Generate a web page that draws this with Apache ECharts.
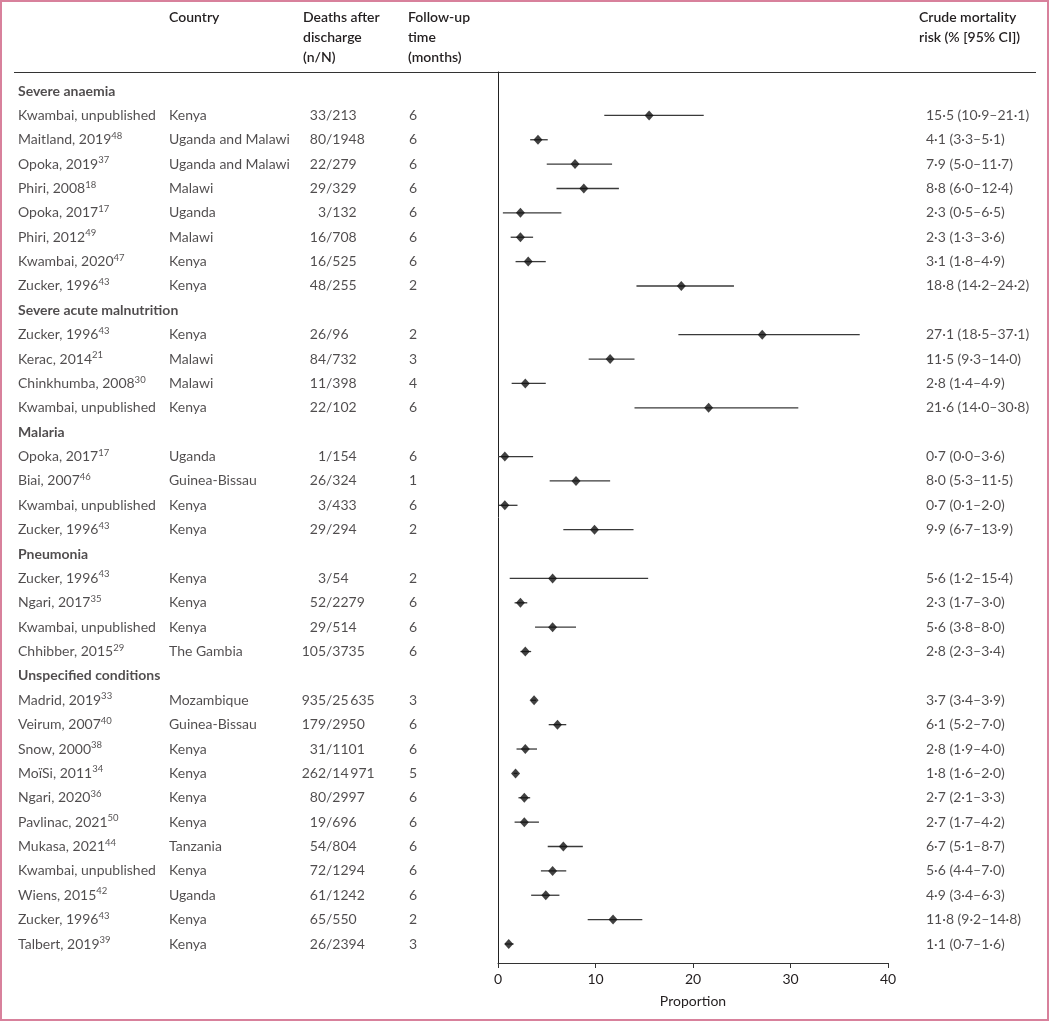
<!DOCTYPE html>
<html>
<head>
<meta charset="utf-8">
<script src="https://cdn.jsdelivr.net/npm/echarts@6/dist/echarts.min.js"></script>
<style>
html,body{margin:0;padding:0;background:#fff;}
#chart{width:1050px;height:1022px;}
</style>
</head>
<body>
<div id="chart"></div>
<script>
// ---------------- DATA ----------------
const groupNames = ['Severe anaemia', 'Severe acute malnutrition', 'Malaria', 'Pneumonia', 'Unspecified conditions'];
const groupSizes = [8, 4, 4, 4, 11];

const studyNames = [
  'Kwambai, unpublished', 'Maitland, 2019', 'Opoka, 2019', 'Phiri, 2008', 'Opoka, 2017', 'Phiri, 2012', 'Kwambai, 2020', 'Zucker, 1996',
  'Zucker, 1996', 'Kerac, 2014', 'Chinkhumba, 2008', 'Kwambai, unpublished',
  'Opoka, 2017', 'Biai, 2007', 'Kwambai, unpublished', 'Zucker, 1996',
  'Zucker, 1996', 'Ngari, 2017', 'Kwambai, unpublished', 'Chhibber, 2015',
  'Madrid, 2019', 'Veirum, 2007', 'Snow, 2000', 'MoïSi, 2011', 'Ngari, 2020', 'Pavlinac, 2021', 'Mukasa, 2021', 'Kwambai, unpublished', 'Wiens, 2015', 'Zucker, 1996', 'Talbert, 2019'
];
const studyRefs = [
  '', '48', '37', '18', '17', '49', '47', '43',
  '43', '21', '30', '',
  '17', '46', '', '43',
  '43', '35', '', '29',
  '33', '40', '38', '34', '36', '50', '44', '', '42', '43', '39'
];
const countries = [
  'Kenya', 'Uganda and Malawi', 'Uganda and Malawi', 'Malawi', 'Uganda', 'Malawi', 'Kenya', 'Kenya',
  'Kenya', 'Malawi', 'Malawi', 'Kenya',
  'Uganda', 'Guinea-Bissau', 'Kenya', 'Kenya',
  'Kenya', 'Kenya', 'Kenya', 'The Gambia',
  'Mozambique', 'Guinea-Bissau', 'Kenya', 'Kenya', 'Kenya', 'Kenya', 'Tanzania', 'Kenya', 'Uganda', 'Kenya', 'Kenya'
];
const deaths = [
  '33/213', '80/1948', '22/279', '29/329', '3/132', '16/708', '16/525', '48/255',
  '26/96', '84/732', '11/398', '22/102',
  '1/154', '26/324', '3/433', '29/294',
  '3/54', '52/2279', '29/514', '105/3735',
  '935/25\u2009635', '179/2950', '31/1101', '262/14\u2009971', '80/2997', '19/696', '54/804', '72/1294', '61/1242', '65/550', '26/2394'
];
const followUp = [
  6, 6, 6, 6, 6, 6, 6, 2,
  2, 3, 4, 6,
  6, 1, 6, 2,
  2, 6, 6, 6,
  3, 6, 6, 5, 6, 6, 6, 6, 6, 2, 3
];
const estimate = [
  15.5, 4.1, 7.9, 8.8, 2.3, 2.3, 3.1, 18.8,
  27.1, 11.5, 2.8, 21.6,
  0.7, 8.0, 0.7, 9.9,
  5.6, 2.3, 5.6, 2.8,
  3.7, 6.1, 2.8, 1.8, 2.7, 2.7, 6.7, 5.6, 4.9, 11.8, 1.1
];
const ciLow = [
  10.9, 3.3, 5.0, 6.0, 0.5, 1.3, 1.8, 14.2,
  18.5, 9.3, 1.4, 14.0,
  0.0, 5.3, 0.1, 6.7,
  1.2, 1.7, 3.8, 2.3,
  3.4, 5.2, 1.9, 1.6, 2.1, 1.7, 5.1, 4.4, 3.4, 9.2, 0.7
];
const ciHigh = [
  21.1, 5.1, 11.7, 12.4, 6.5, 3.6, 4.9, 24.2,
  37.1, 14.0, 4.9, 30.8,
  3.6, 11.5, 2.0, 13.9,
  15.4, 3.0, 8.0, 3.4,
  3.9, 7.0, 4.0, 2.0, 3.3, 4.2, 8.7, 7.0, 6.3, 14.8, 1.6
];
const xTicks = [0, 10, 20, 30, 40];
const xAxisName = 'Proportion';
const headers = {
  country: 'Country',
  deaths: 'Deaths after\ndischarge\n(n/N)',
  follow: 'Follow-up\ntime\n(months)',
  risk: 'Crude mortality\nrisk (% [95% CI])'
};

// ---------------- LAYOUT ----------------
const FONT = 'Lato';
const TXT = '#231f20';
const FS = 14;
const nRows = groupNames.length + studyNames.length;
const yMin = -0.78, yMax = nRows - 1 + 0.78;
const COL = { study: 18, country: 169, slash: 326, follow: 409, risk: 926 };

const headerRows = [], studyRows = [];
let r = 0;
groupSizes.forEach((n) => { headerRows.push(r++); for (let k = 0; k < n; k++) studyRows.push(r++); });

const fmt = v => v.toFixed(1).replace('.', '\u00b7');

function textSeries(name, xPos, rowsArr, texts, align, extra) {
  return {
    type: 'scatter', name, xAxisIndex: 1, yAxisIndex: 1, symbolSize: 0, silent: true,
    data: rowsArr.map((row, i) => ({ value: [xPos, row], txt: texts[i] })),
    label: Object.assign({
      show: true, position: [0, 0], align: align, verticalAlign: 'middle',
      fontFamily: FONT, fontSize: FS, color: TXT,
      formatter: p => p.data.txt
    }, extra || {}),
    z: 5
  };
}

const studyTexts = studyNames.map((s, i) => studyRefs[i] ? '{a|' + s + '}{s|' + studyRefs[i] + '}' : '{a|' + s + '}');
const numTexts = deaths.map(d => d.split('/')[0]);
const denTexts = deaths.map(d => '/' + d.split('/')[1]);
const riskTexts = estimate.map((e, i) => fmt(e) + ' (' + fmt(ciLow[i]) + '\u2013' + fmt(ciHigh[i]) + ')');

const chart = echarts.init(document.getElementById('chart'));
const option = {
  backgroundColor: '#fff',
  animation: false,
  textStyle: { fontFamily: FONT },
  grid: [
    { left: 498, width: 390, top: 72, height: 891 },
    { left: 0, width: 1050, top: 72, height: 891 }
  ],
  xAxis: [
    {
      gridIndex: 0, type: 'value', min: 0, max: 40, interval: 10, position: 'bottom',
      axisLine: { show: true, onZero: false, lineStyle: { color: '#333', width: 1 } },
      axisTick: { show: true, length: 5, lineStyle: { color: '#333' } },
      axisLabel: { fontFamily: FONT, fontSize: FS, color: TXT, margin: 9 },
      splitLine: { show: false },
      name: xAxisName, nameLocation: 'middle', nameGap: 31,
      nameTextStyle: { fontFamily: FONT, fontSize: FS, color: TXT }
    },
    { gridIndex: 1, type: 'value', min: 0, max: 1050, show: false }
  ],
  yAxis: [
    {
      gridIndex: 0, type: 'value', inverse: true, min: yMin, max: yMax,
      axisLine: { show: true, onZero: false, lineStyle: { color: '#222', width: 1 } },
      axisTick: { show: false }, axisLabel: { show: false }, splitLine: { show: false }
    },
    { gridIndex: 1, type: 'value', inverse: true, min: yMin, max: yMax, show: false }
  ],
  graphic: [
    { type: 'rect', shape: { x: 1, y: 1, width: 1047, height: 1019 }, style: { fill: 'none', stroke: '#d8819c', lineWidth: 2 }, silent: true },
    { type: 'line', shape: { x1: 14, y1: 72.5, x2: 1036, y2: 72.5 }, style: { stroke: '#333', lineWidth: 1 }, silent: true },
    { type: 'text', left: 169, top: 7, style: { text: headers.country, font: '600 14px ' + FONT, fill: TXT, lineHeight: 20 } },
    { type: 'text', left: 303, top: 7, style: { text: headers.deaths, font: '600 14px ' + FONT, fill: TXT, lineHeight: 20 } },
    { type: 'text', left: 408, top: 7, style: { text: headers.follow, font: '600 14px ' + FONT, fill: TXT, lineHeight: 20 } },
    { type: 'text', left: 919, top: 7, style: { text: headers.risk, font: '600 14px ' + FONT, fill: TXT, lineHeight: 20 } }
  ],
  series: [
    {
      type: 'custom', name: 'ci', xAxisIndex: 0, yAxisIndex: 0, silent: true,
      data: studyRows.map((row, i) => [ciLow[i], ciHigh[i], row]),
      renderItem: (params, api) => {
        const a = api.coord([api.value(0), api.value(2)]);
        const b = api.coord([api.value(1), api.value(2)]);
        return { type: 'line', shape: { x1: a[0], y1: a[1], x2: b[0], y2: b[1] }, style: { stroke: '#3a3a3a', lineWidth: 1.3 } };
      },
      z: 3
    },
    {
      type: 'scatter', name: 'estimate', xAxisIndex: 0, yAxisIndex: 0, silent: true,
      symbol: 'diamond', symbolSize: [9, 10],
      itemStyle: { color: '#111' },
      data: studyRows.map((row, i) => [estimate[i], row]),
      z: 4
    },
    textSeries('groups', COL.study, headerRows, groupNames, 'left', { fontWeight: 'bold' }),
    textSeries('studies', COL.study, studyRows, studyTexts, 'left', {
      rich: {
        a: { fontFamily: FONT, fontSize: FS, color: TXT, lineHeight: 18 },
        s: { fontFamily: FONT, fontSize: 9.5, color: TXT, lineHeight: 9, verticalAlign: 'top' }
      }
    }),
    textSeries('countries', COL.country, studyRows, countries, 'left'),
    textSeries('numerators', COL.slash, studyRows, numTexts, 'right'),
    textSeries('denominators', COL.slash, studyRows, denTexts, 'left'),
    textSeries('follow', COL.follow, studyRows, followUp.map(String), 'left'),
    textSeries('risk', COL.risk, studyRows, riskTexts, 'left')
  ]
};
chart.setOption(option);
</script>
</body>
</html>
